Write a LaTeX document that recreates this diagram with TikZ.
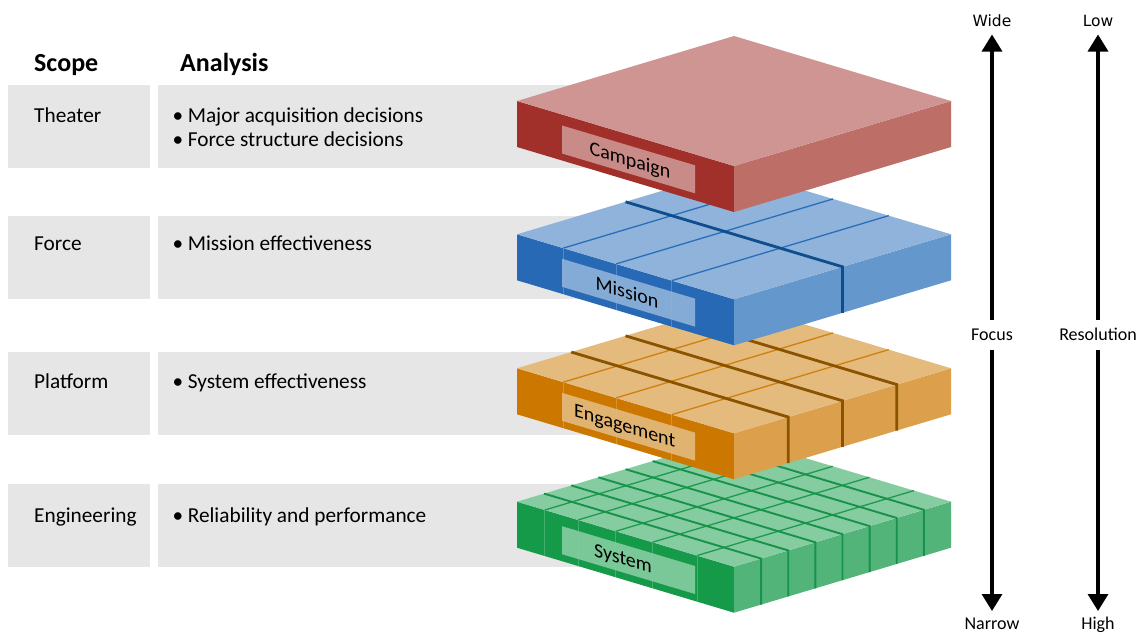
\documentclass[tikz,border=0pt]{standalone}
\usepackage{fontspec}
\setmainfont{Carlito}
\newfontfamily\dejavu{DejaVu Sans}
\usetikzlibrary{arrows.meta}

\definecolor{grayrow}{HTML}{E6E6E6}
\definecolor{redTop}{HTML}{CE9593}
\definecolor{redLeft}{HTML}{A2302A}
\definecolor{redRight}{HTML}{BD6E66}
\definecolor{blueTop}{HTML}{8FB3DA}
\definecolor{blueLeft}{HTML}{2869B6}
\definecolor{blueRight}{HTML}{6497CB}
\definecolor{blueThin}{HTML}{2A6DB8}
\definecolor{blueGap}{HTML}{0E4E8E}
\definecolor{orTop}{HTML}{E4BA7D}
\definecolor{orLeft}{HTML}{CC7700}
\definecolor{orRight}{HTML}{DCA04D}
\definecolor{orThin}{HTML}{D0800E}
\definecolor{orGap}{HTML}{8A5300}
\definecolor{grTop}{HTML}{86CCA1}
\definecolor{grLeft}{HTML}{159A4A}
\definecolor{grRight}{HTML}{53B47A}
\definecolor{grThin}{HTML}{1E9A4E}
\definecolor{grGap}{HTML}{17924A}

% slab body: #1 = Y of left corner, #2 = colour prefix
\newcommand{\slabbody}[2]{%
  \fill[#2Left]  (517,#1) -- (734,#1+65) -- (734,#1+111) -- (517,#1+46) -- cycle;
  \fill[#2Right] (734,#1+65) -- (951,#1) -- (951,#1+46) -- (734,#1+111) -- cycle;
  \fill[#2Top]   (517,#1) -- (734,#1-65) -- (951,#1) -- (734,#1+65) -- cycle;
}
% thin lines at constant a: #1 = Y, #2 = prefix, #3 = list
\newcommand{\slabgrid}[3]{%
  \foreach \aa in {#3} {
    \draw[#2Thin, line width=1.3] ({517+217*\aa},{#1+65*\aa}) -- ++(217,-65);
    \draw[#2Left!80!white, line width=0.8] ({517+217*\aa},{#1+65*\aa}) -- ++(0,46);
  }
}
% gaps at constant b: #1 = Y, #2 = prefix, #3 = list, #4 = width
\newcommand{\slabgaps}[4]{%
  \foreach \bb in {#3} {
    \draw[#2Gap, line width=#4] ({517+217*\bb},{#1-65*\bb}) -- ++(217,65) -- ++(0,46);
  }
}
% label: #1 = Y, #2 = prefix, #3 = text x centre, #4 = text, #5 = name
\newcommand{\slablabel}[5]{%
  \fill[#2Top, opacity=0.9] (562,#1+24.5) -- (695,#1+64.3) -- (695,#1+92.3) -- (562,#1+52.5) -- cycle;
  \node[slabtext] (#5) at (#3,{#1+0.2995*(#3-517)+31.5}) {#4};
}

\tikzset{
  rowbox/.style={fill=grayrow},
  scopetext/.style={anchor=base west, inner sep=0, font=\fontsize{21.3}{25}\selectfont},
  headtext/.style={anchor=base west, inner sep=0, font=\bfseries\fontsize{26}{30}\selectfont},
  slabtext/.style={anchor=base, inner sep=0, yslant=-0.2995, font=\fontsize{20}{24}\selectfont},
  axislabel/.style={anchor=base, inner sep=0, font=\fontsize{18}{22}\selectfont},
  axistop/.style={anchor=base, inner sep=0, font=\dejavu\fontsize{15.5}{18}\selectfont},
  axismid/.style={anchor=base, inner xsep=0, inner ysep=8.5, font=\fontsize{18}{22}\selectfont},
  axisarrow/.style={line width=3.3, -{Triangle[width=20pt,length=17pt]}},
}

\begin{document}
\begin{tikzpicture}[x=1pt,y=-1pt]
\fill[white] (0,0) rectangle (1139,635);
\useasboundingbox (0,0) rectangle (1139,635);

% gray rows
\fill[rowbox] (8,85) rectangle (150,168);
\fill[rowbox] (158,85) rectangle (760,168);
\fill[rowbox] (8,215.5) rectangle (150,298.5);
\fill[rowbox] (158,215.5) rectangle (760,298.5);
\fill[rowbox] (8,352) rectangle (150,435);
\fill[rowbox] (158,352) rectangle (760,435);
\fill[rowbox] (8,484) rectangle (150,567);
\fill[rowbox] (158,484) rectangle (760,567);

% headings
\node[headtext] (scope) at (34,71.7) {Scope};
\node[headtext] (analysis) at (180,71.7) {Analysis};

% rows text
\node[scopetext] (theater) at (34,122) {Theater};
\node[scopetext] (a1) at (172.5,122) {•\hspace{4.5pt}Major acquisition decisions};
\node[scopetext] (a2) at (172.5,146.7) {•\hspace{4.5pt}Force structure decisions};
\node[scopetext] (force) at (34,250) {Force};
\node[scopetext] (a3) at (172.5,250) {•\hspace{4.5pt}Mission effectiveness};
\node[scopetext] (platform) at (34,388) {Platform};
\node[scopetext] (a4) at (172.5,388) {•\hspace{4.5pt}System effectiveness};
\node[scopetext] (engineering) at (34,522) {Engineering};
\node[scopetext] (a5) at (172.5,522) {•\hspace{4.5pt}Reliability and performance};

% green slab (System)
\slabbody{501.7}{gr}
\slabgrid{501.7}{gr}{0.128,0.281,0.455,0.624,0.829}
\slabgaps{501.7}{gr}{0.125,0.25,0.375,0.5,0.625,0.75,0.875}{1.9}
\slablabel{501.7}{gr}{623}{System}{system}

% orange slab (Engagement)
\slabbody{368.3}{or}
\slabgrid{368.3}{or}{0.213,0.456,0.713}
\slabgaps{368.3}{or}{0.25,0.5,0.75}{2.8}
\slablabel{368.3}{or}{624.7}{Engagement}{engagement}

% blue slab (Mission)
\slabbody{234.3}{blue}
\slabgrid{234.3}{blue}{0.213,0.456,0.713}
\slabgaps{234.3}{blue}{0.5}{2.8}
\slablabel{234.3}{blue}{627}{Mission}{mission}

% red slab (Campaign)
\slabbody{101}{red}
\slablabel{101}{red}{630}{Campaign}{campaign}

% axes
\node[axistop] (wide) at (992,26) {Wide};
\node[axismid] (focus) at (992,340.7) {Focus};
\node[axislabel] (narrow) at (992,629.5) {Narrow};
\coordinate (ftop) at (992,34.5);
\coordinate (fbot) at (992,611);
\draw[axisarrow] (focus.north) -- (ftop);
\draw[axisarrow] (focus.south) -- (fbot);

\node[axistop] (low) at (1098,26) {Low};
\node[axismid] (resolution) at (1098,340.7) {Resolution};
\node[axislabel] (high) at (1098,629.5) {High};
\coordinate (rtop) at (1098,34.5);
\coordinate (rbot) at (1098,611);
\draw[axisarrow] (resolution.north) -- (rtop);
\draw[axisarrow] (resolution.south) -- (rbot);
\end{tikzpicture}
\end{document}
